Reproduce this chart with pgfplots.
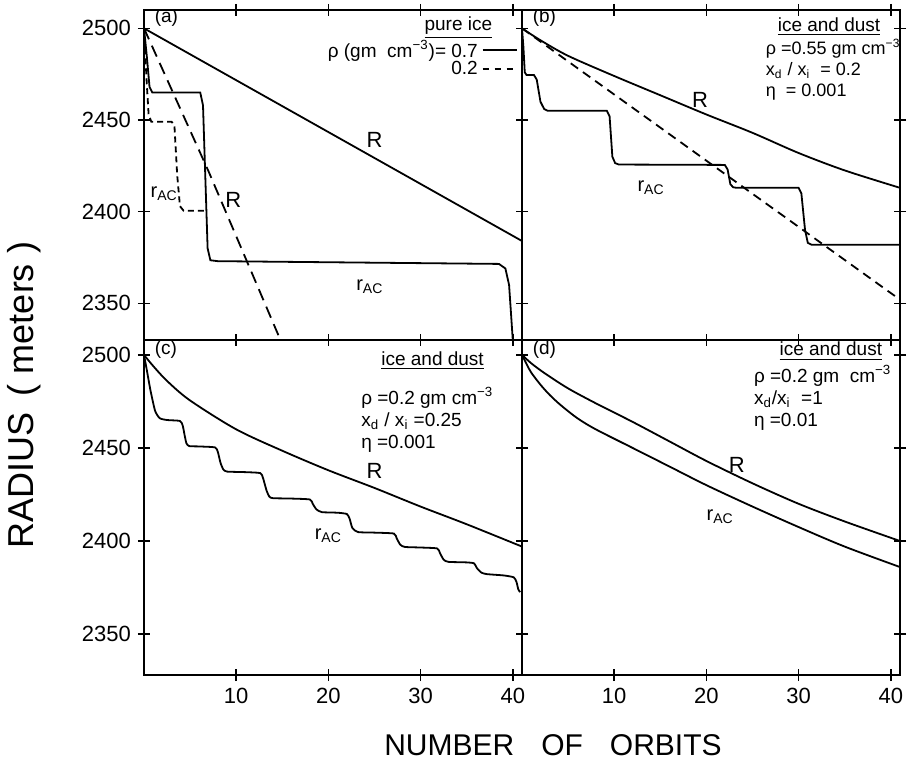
\documentclass[border=0pt]{standalone}
\usepackage{fontspec}
\setmainfont{Liberation Sans}
\usepackage{pgfplots}
\pgfplotsset{compat=1.18}
\newcommand\af{\fontsize{9.5}{11}\selectfont}
\newcommand\lf{\fontsize{11}{12}\selectfont}
\newcommand\rac{{\fontsize{10}{11}\selectfont r\textsubscript{AC}}}
\begin{document}
\begin{tikzpicture}
\path[use as bounding box] (-72pt,-45pt) rectangle (382pt,337.5pt);
\pgfplotsset{
  panel/.style={
    scale only axis, width=189pt, xmin=0, xmax=41,
    axis line style={line width=1pt},
    xtick={10,20,30,40}, ytick={2350,2400,2450,2500},
    tick align=center, major tick length=6pt,
    every tick/.style={black, line width=0.8pt},
    tick label style={font=\fontsize{11}{12}\selectfont},
    /pgf/number format/assume math mode=true,
    /pgf/number format/1000 sep={},
    xtick pos=both, ytick pos=both,
  },
  curve/.style={black, line width=0.9pt, no marks},
}
% ---------------- panel (c) ----------------
\begin{axis}[panel, at={(0pt,0pt)}, anchor=south west, height=167.5pt, ymin=2328, ymax=2508]
\addplot[curve, smooth] coordinates {(0,2500) (1,2494) (2.5,2486) (5,2475.5) (10,2460) (15,2448.5) (20,2438) (25,2428.5) (30,2418.5) (35,2409) (41,2397)};
\addplot[curve, smooth, tension=0.35] coordinates {
(0,2500) (0.3,2492) (0.7,2481) (1.2,2470) (1.7,2466) (2.5,2465) (3.9,2464.5)
(4.2,2462) (4.4,2457) (4.6,2452.5) (4.9,2451) (6,2450.8) (7.7,2450.3)
(8.0,2448) (8.3,2442) (8.6,2438.5) (9.0,2437.3) (11,2437) (12.6,2436.5)
(12.9,2434) (13.3,2427) (13.6,2423.8) (14,2423) (16,2422.8) (18.0,2422.3)
(18.3,2420) (18.7,2417) (19.3,2415.5) (21,2415.2) (22.0,2414.5)
(22.3,2412) (22.6,2407) (23.2,2404.8) (25,2404.5) (27.1,2404)
(27.4,2401.5) (27.8,2398) (28.3,2396.8) (30,2396.5) (31.8,2396)
(32.1,2393.5) (32.5,2390) (33,2388.8) (35,2388.5) (35.8,2388)
(36.1,2385.5) (36.6,2383) (37.2,2382.2) (39,2381.5) (40.1,2380.5)
(40.4,2378) (40.6,2374) (40.8,2372.5)};
\node[font=\af, anchor=west] at (axis cs:0.4,2503) {(c)};
\node[font=\af] at (axis cs:31.3,2497) {\underline{ice and dust}};
\node[font=\af, anchor=west, align=left] at (axis cs:22.8,2465) {ρ =0.2 gm cm\textsuperscript{−3}\\x\textsubscript{d} / x\textsubscript{i} =0.25\\η =0.001};
\node[font=\lf] at (axis cs:25,2437.5) {R};
\node at (axis cs:20,2403) {\rac};
\end{axis}
% ---------------- panel (d) ----------------
\begin{axis}[panel, at={(189pt,0pt)}, anchor=south west, height=167.5pt, ymin=2328, ymax=2508, yticklabels={}]
\addplot[curve, smooth] coordinates {(0,2500) (1,2495.5) (2.5,2490) (5,2482) (8,2474) (12,2464) (16,2453.5) (20,2443) (25,2431) (30,2420) (35,2410.5) (41,2400)};
\addplot[curve, smooth] coordinates {(0,2500) (0.5,2495) (1,2490.5) (2,2484) (3,2478.5) (4.2,2473) (6,2466) (8,2460) (12,2450) (16,2440) (20,2430) (25,2418.5) (30,2407.5) (35,2397) (41,2386)};
\node[font=\af, anchor=west] at (axis cs:0.4,2503) {(d)};
\node[font=\af] at (axis cs:33.5,2502) {\underline{ice and dust}};
\node[font=\af, anchor=west, align=left] at (axis cs:24.4,2477) {ρ =0.2 gm \ cm\textsuperscript{−3}\\x\textsubscript{d}/x\textsubscript{i} \ =1\\η =0.01};
\node[font=\lf] at (axis cs:23.3,2441) {R};
\node at (axis cs:21.5,2413) {\rac};
\end{axis}
% ---------------- panel (a) ----------------
\begin{axis}[panel, at={(0pt,167.5pt)}, anchor=south west, height=165pt, ymin=2330, ymax=2510, xticklabels={},
  legend style={at={(axis cs:40.8,2497)}, anchor=north east, draw=none, fill=none, font=\af, row sep=-3.5pt, inner sep=1pt},
  legend cell align=right, legend plot pos=right]
\addlegendimage{black, line width=0.9pt}
\addlegendentry{ρ (gm \ cm\textsuperscript{−3})= 0.7}
\addlegendimage{black, line width=0.9pt, dashed}
\addlegendentry{0.2}
\addplot[curve, forget plot] coordinates {(0,2500) (41,2384)};
\addplot[curve, forget plot, dash pattern=on 6pt off 3.5pt] coordinates {(0,2500) (7,2422) (14.8,2330) (16,2316)};
\addplot[curve, forget plot] coordinates {(0,2500) (0.3,2485) (0.6,2468) (0.9,2465) (6.1,2465) (6.4,2458) (6.9,2380) (7.2,2373.5) (8,2373) (38.5,2371.5) (39.2,2369) (39.6,2360) (40.0,2330) (40.1,2320)};
\addplot[curve, forget plot, dash pattern=on 3pt off 2pt] coordinates {(0,2500) (0.3,2470) (0.5,2453) (0.8,2449) (3.0,2449) (3.3,2447) (3.6,2420) (3.9,2403) (4.3,2400.5) (6.7,2400.5)};
\node[font=\af, anchor=west] at (axis cs:0.4,2506) {(a)};
\node[font=\af] at (axis cs:34.1,2500.5) {\underline{pure ice}};
\node[font=\lf] at (axis cs:25,2439) {R};
\node[font=\lf] at (axis cs:9.7,2406.5) {R};
\node at (axis cs:2.2,2410) {\rac};
\node at (axis cs:24.5,2359) {\rac};
\end{axis}
% ---------------- panel (b) ----------------
\begin{axis}[panel, at={(189pt,167.5pt)}, anchor=south west, height=165pt, ymin=2330, ymax=2510, xticklabels={}, yticklabels={}]
\addplot[curve, smooth] coordinates {(0,2500) (2,2493.5) (5,2485) (10,2474) (15,2463.5) (20,2453) (25,2443) (30,2432) (35,2422.5) (41,2413)};
\addplot[curve, dash pattern=on 4.5pt off 3pt] coordinates {(0,2500) (41,2352)};
\addplot[curve] coordinates {(0,2500) (0.15,2490) (0.3,2476) (0.5,2474.5) (1.3,2474.5) (1.6,2472) (2.0,2460) (2.4,2456) (2.8,2455) (9.2,2455) (9.5,2452) (9.8,2430) (10.1,2426.5) (10.5,2425.7) (22.0,2425.5) (22.3,2423) (22.6,2415) (22.9,2413.3) (23.3,2413) (30.0,2413) (30.3,2410) (30.7,2390) (31.0,2383) (31.4,2382) (41,2382)};
\node[font=\af, anchor=west] at (axis cs:0.4,2506) {(b)};
\node[font=\af] at (axis cs:33.3,2501) {\underline{ice and dust}};
\node[font=\fontsize{9}{10.5}\selectfont, anchor=west, align=left, inner sep=1pt] at (axis cs:26.2,2477.5) {ρ =0.55 gm cm\textsuperscript{−3}\\x\textsubscript{d} / x\textsubscript{i} \ = 0.2\\η \ = 0.001};
\node[font=\lf] at (axis cs:19.3,2461) {R};
\node at (axis cs:14,2413) {\rac};
\end{axis}
% axis titles
\node[rotate=90, font=\fontsize{18}{20}\selectfont] at (-60pt,140pt) {RADIUS \,( meters )};
\node[font=\fontsize{15}{17}\selectfont] at (204.5pt,-35pt) {NUMBER\hspace{0.9em}OF\hspace{0.9em}ORBITS};
\end{tikzpicture}
\end{document}
